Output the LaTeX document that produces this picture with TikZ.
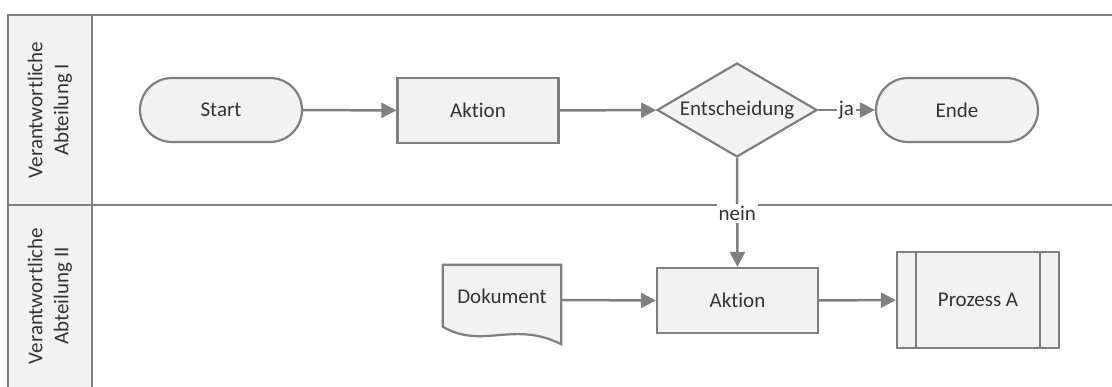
\documentclass[tikz,border=0pt]{standalone}
\usepackage{fontspec}
\setmainfont{Carlito}[RawFeature={-liga}]
\usetikzlibrary{arrows.meta,shapes.geometric}
\definecolor{linegray}{HTML}{7F7F7F}
\definecolor{shapefill}{HTML}{F2F2F2}
\definecolor{txt}{HTML}{333333}
\begin{document}
\begin{tikzpicture}[x=1pt,y=-1pt,
  every node/.style={font=\fontsize{21}{26}\selectfont, text=txt},
  base/.style={draw=linegray, fill=shapefill, line width=2.2pt, inner sep=0pt},
  terminal/.style={base, rounded corners=32pt, minimum width=162pt, minimum height=64pt},
  actionbox/.style={base, minimum width=161pt, minimum height=65pt},
  decision/.style={base, diamond, aspect=1.7, minimum width=160pt, minimum height=94pt},
  subproc/.style={base, minimum width=162pt, minimum height=96pt},
  docshape/.style={inner sep=0pt, minimum width=118pt, minimum height=70pt},
  flow/.style={draw=linegray, line width=2.5pt, -{Triangle[length=15pt,width=15pt]}},
  lane/.style={draw=linegray, line width=2.5pt},
  lanelabel/.style={rotate=90, align=center},
  edgelabel/.style={fill=white, inner sep=2pt}
]
\useasboundingbox (0,0) rectangle (1112,387);

% swimlane frame and header column
\fill[shapefill] (8,15) rectangle (92,387);
\draw[lane] (1112,15) -- (8,15) -- (8,387);
\draw[lane] (92,15) -- (92,387);
\draw[lane] (8,205) -- (1112,205);

\node[lanelabel] (lane1) at (50,110) {Verantwortliche\\Abteilung I};
\node[lanelabel] (lane2) at (50,296) {Verantwortliche\\Abteilung II};

% lane I
\node[terminal]  (start) at (221,110) {Start};
\node[actionbox] (akt1)  at (478,110.5) {Aktion};
\node[decision]  (ent)   at (737,110) {Entscheidung};
\node[terminal]  (ende)  at (957,110) {Ende};

% lane II
\node[docshape] (dok) at (502,300) {};
\draw[base] (dok.north west) -- ++(0,62)
  .. controls ++(40,23) and ++(-48,-24) .. ([yshift=-9pt]dok.south east)
  -- (dok.north east) -- cycle;
\node at (dok) {\raisebox{7pt}{Dokument}};
\node[actionbox] (akt2) at (737.5,300.5) {Aktion};
\node[subproc]   (proz) at (978,300) {Prozess A};
\draw[draw=linegray, line width=2.2pt]
  ([xshift=20pt]proz.north west) -- ([xshift=20pt]proz.south west)
  ([xshift=-20pt]proz.north east) -- ([xshift=-20pt]proz.south east);

% connectors
\draw[flow] (start) -- (akt1);
\draw[flow] (akt1) -- (ent);
\draw[flow] (ent.east) -- node[edgelabel] {ja} (ende.west);
\draw[flow] (ent.south) -- node[edgelabel, pos=0.51] {nein} (akt2.north);
\draw[flow] (dok.east) -- (akt2.west);
\draw[flow] (akt2) -- (proz);
\end{tikzpicture}
\end{document}
